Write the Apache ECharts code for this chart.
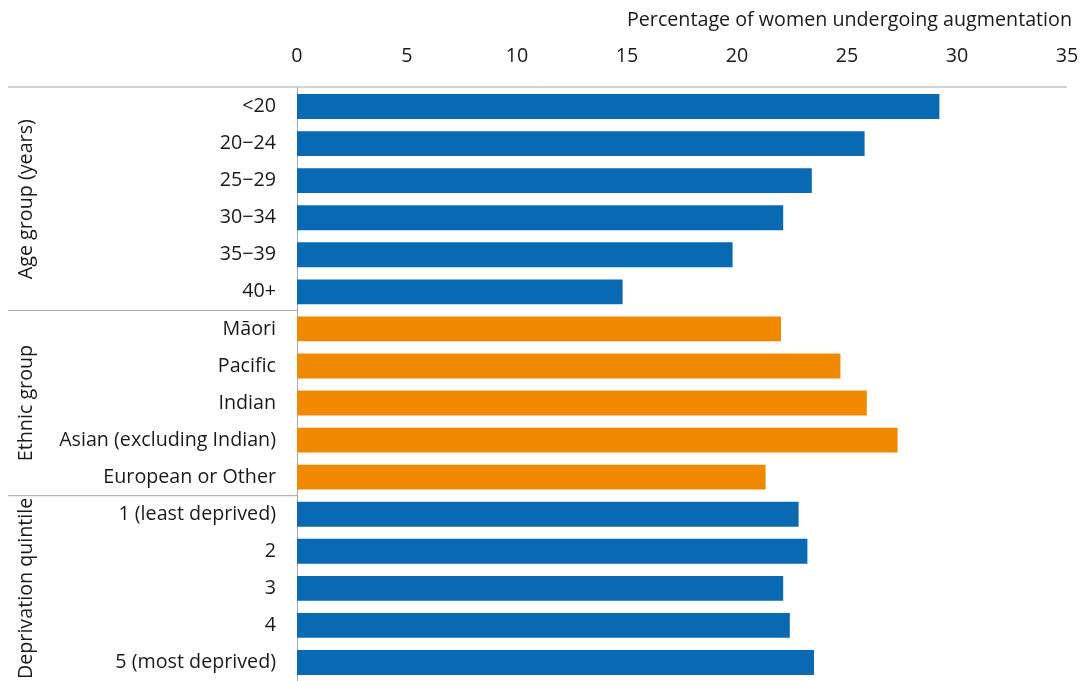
<!DOCTYPE html>
<html lang="en">

<head>
    <meta charset="UTF-8">
    <title>Augmentation</title>
    <script src="https://cdn.jsdelivr.net/npm/echarts@6/dist/echarts.min.js"></script>
    <style>
        html, body { margin: 0; padding: 0; background: #fff; }
        #main { width: 1085px; height: 681px; }
    </style>
</head>

<body>
    <div id="main"></div>
    <script>
        var categories = ['<20', '20\u221224', '25\u221229', '30\u221234', '35\u221239', '40+',
            'M\u0101ori', 'Pacific', 'Indian', 'Asian (excluding Indian)', 'European or Other',
            '1 (least deprived)', '2', '3', '4', '5 (most deprived)'
        ]
        var values = [29.2, 25.8, 23.4, 22.1, 19.8, 14.8,
            22.0, 24.7, 25.9, 27.3, 21.3,
            22.8, 23.2, 22.1, 22.4, 23.5
        ]
        // which group each category belongs to
        var groupOf = [0, 0, 0, 0, 0, 0, 1, 1, 1, 1, 1, 2, 2, 2, 2, 2]
        var groupNames = ['Age group (years)', 'Ethnic group', 'Deprivation quintile']
        var groupColors = ['#0a69b3', '#f08800', '#0a69b3']
        var xTicks = [0, 35, 5] // min, max, interval

        var font = '"Open Sans", "Noto Sans", sans-serif'
        var fs = 19.7
        var textColor = '#1a1a1a'

        var mCharts = echarts.init(document.getElementById('main'))

        var option = {
            animation: false,
            textStyle: { fontFamily: font },
            grid: {
                left: 297,
                right: 18,
                top: 88,
                height: 597,
                containLabel: false
            },
            xAxis: {
                type: 'value',
                position: 'top',
                min: xTicks[0],
                max: xTicks[1],
                interval: xTicks[2],
                name: 'Percentage of women undergoing augmentation',
                nameLocation: 'end',
                nameGap: 0,
                nameTextStyle: {
                    fontFamily: font, fontSize: fs, color: textColor,
                    align: 'right', verticalAlign: 'bottom', padding: [0, -5, 58, 0]
                },
                axisLine: { show: false },
                axisTick: { show: false },
                splitLine: { show: false },
                axisLabel: { fontFamily: font, fontSize: fs, color: textColor, margin: 22 }
            },
            yAxis: {
                type: 'category',
                inverse: true,
                data: categories,
                axisLine: { show: true, lineStyle: { color: '#a6a6a6', width: 1 } },
                axisTick: { show: false },
                axisLabel: { fontFamily: font, fontSize: fs, color: textColor, margin: 21 }
            },
            series: [{
                type: 'bar',
                barCategoryGap: '33%',
                data: values.map(function(v, i) {
                    return { value: v, itemStyle: { color: groupColors[groupOf[i]] } }
                })
            }]
        }
        mCharts.setOption(option)

        // group titles and separator lines, placed from the axis scale
        var graphics = []
        var axisX = mCharts.convertToPixel({ xAxisIndex: 0 }, 0)
        var endX = mCharts.convertToPixel({ xAxisIndex: 0 }, xTicks[1])
        var topY = mCharts.convertToPixel({ yAxisIndex: 0 }, categories[0])
        var step = mCharts.convertToPixel({ yAxisIndex: 0 }, categories[1]) - topY
        var edgeTop = topY - step / 2 - 1
        graphics.push({
            type: 'line',
            shape: { x1: 8, y1: edgeTop, x2: endX, y2: edgeTop },
            style: { stroke: '#a6a6a6', lineWidth: 1 }
        })
        groupNames.forEach(function(name, g) {
            var first = groupOf.indexOf(g)
            var last = groupOf.lastIndexOf(g)
            var y0 = mCharts.convertToPixel({ yAxisIndex: 0 }, categories[first]) - step / 2
            var y1 = mCharts.convertToPixel({ yAxisIndex: 0 }, categories[last]) + step / 2
            if (g > 0) {
                graphics.push({
                    type: 'line',
                    shape: { x1: 8, y1: y0, x2: axisX, y2: y0 },
                    style: { stroke: '#a6a6a6', lineWidth: 1 }
                })
            }
            graphics.push({
                type: 'text',
                x: 26,
                y: (y0 + y1) / 2,
                rotation: Math.PI / 2,
                style: {
                    text: name,
                    fontFamily: font,
                    fontSize: fs,
                    fill: textColor,
                    align: 'center',
                    verticalAlign: 'middle'
                }
            })
        })
        mCharts.setOption({ graphic: graphics })
    </script>
</body>

</html>
